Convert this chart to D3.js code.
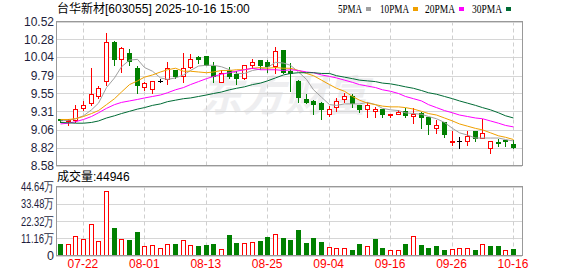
<!DOCTYPE html>
<html><head><meta charset="utf-8">
<script src="https://cdn.jsdelivr.net/npm/d3@7"></script>
<style>html,body{margin:0;padding:0;background:#fff;}svg{display:block;}</style>
</head><body>
<svg id="c" width="578" height="276"></svg>
<script>
const dates = ["07-17","07-18","07-21","07-22","07-23","07-24","07-25","07-28","07-29","07-30","07-31",
"08-01","08-04","08-05","08-06","08-07","08-08","08-11","08-12","08-13","08-14","08-15","08-18","08-19","08-20","08-21","08-22","08-25","08-26","08-27","08-28","08-29",
"09-01","09-02","09-03","09-04","09-05","09-08","09-09","09-10","09-11","09-12","09-15","09-16","09-17","09-18","09-19","09-22","09-23","09-24","09-25","09-26","09-29","09-30",
"10-09","10-10","10-13","10-14","10-15","10-16"];
const open  = [9.20,9.18,9.19,9.35,9.42,9.52,9.72,10.24,10.01,10.10,9.90,9.64,9.61,9.72,9.74,9.86,9.78,9.91,10.04,10.05,9.92,9.71,9.86,9.81,9.76,9.94,10.00,9.97,9.92,10.14,9.85,9.72,9.48,9.45,9.42,9.28,9.37,9.47,9.52,9.40,9.34,9.32,9.34,9.27,9.27,9.31,9.25,9.29,9.23,9.09,9.16,8.90,8.91,8.91,9.04,8.95,8.81,8.89,8.92,8.87];
const close = [9.19,9.19,9.34,9.40,9.54,9.62,10.24,10.01,10.16,9.99,9.67,9.69,9.72,9.72,9.89,9.78,9.89,10.02,10.01,9.93,9.78,9.83,9.79,9.76,9.93,9.97,9.93,9.92,10.12,9.84,9.83,9.50,9.43,9.41,9.34,9.34,9.45,9.52,9.42,9.34,9.40,9.34,9.27,9.275,9.30,9.26,9.28,9.23,9.14,9.13,9.00,8.91,8.91,8.98,8.95,9.02,8.91,8.88,8.91,8.83];
const high  = [9.21,9.20,9.40,9.45,9.89,9.65,10.36,10.26,10.17,10.15,9.92,9.70,9.72,9.74,9.98,9.87,10.09,10.08,10.06,10.05,9.97,9.86,9.91,9.85,9.94,10.02,10.00,10.00,10.18,10.14,9.96,9.73,9.54,9.46,9.43,9.38,9.49,9.55,9.54,9.40,9.43,9.37,9.34,9.28,9.33,9.35,9.36,9.30,9.23,9.19,9.17,9.04,8.97,9.04,9.04,9.20,8.91,8.94,8.92,8.92];
const low   = [9.17,9.12,9.17,9.33,9.40,9.49,9.67,9.93,9.84,9.93,9.56,9.60,9.55,9.70,9.68,9.76,9.70,9.89,9.96,9.93,9.70,9.70,9.76,9.68,9.75,9.89,9.88,9.84,9.83,9.83,9.58,9.43,9.42,9.28,9.20,9.25,9.31,9.43,9.37,9.30,9.23,9.23,9.23,9.23,9.27,9.23,9.15,9.09,9.01,9.02,8.97,8.86,8.81,8.86,8.91,8.95,8.75,8.84,8.84,8.81];
const volume = [7.2,7.6,12.8,10.9,20.6,9.6,41.5,17.6,10.9,9.8,15.0,6.3,7.0,5.0,7.6,7.2,10.2,7.0,5.9,6.5,7.2,4.3,13.0,7.8,7.8,8.5,9.1,11.7,13.7,11.1,9.8,16.3,7.8,11.1,8.5,5.6,5.0,5.0,3.7,7.2,6.3,10.4,5.0,3.3,3.3,7.2,12.8,6.5,5.0,5.9,3.7,4.3,5.0,5.0,3.7,7.6,5.9,5.9,3.7,4.49];
const volDir = ["d","u","u","u","u","u","u","d","u","d","d","u","u","u","u","d","u","u","d","d","d","u","d","d","u","u","d","d","u","d","d","d","d","d","d","u","u","u","d","d","u","d","d","u","u","d","u","d","d","d","d","u","u","u","d","u","d","d","u","d"];
const ma5  = [9.18,9.19,9.21,9.25,9.33,9.42,9.63,9.76,9.91,10.00,10.01,9.90,9.85,9.76,9.74,9.76,9.80,9.86,9.92,9.93,9.93,9.91,9.87,9.82,9.82,9.86,9.88,9.90,9.97,9.96,9.93,9.84,9.74,9.60,9.50,9.40,9.39,9.41,9.41,9.41,9.43,9.40,9.35,9.33,9.32,9.29,9.28,9.27,9.24,9.21,9.16,9.08,9.02,8.99,8.95,8.95,8.95,8.95,8.93,8.91];
const ma10 = [9.20,9.20,9.21,9.24,9.28,9.32,9.40,9.48,9.57,9.67,9.72,9.77,9.80,9.84,9.87,9.89,9.85,9.85,9.84,9.83,9.84,9.86,9.86,9.87,9.87,9.89,9.90,9.89,9.90,9.89,9.89,9.86,9.82,9.79,9.73,9.67,9.62,9.58,9.51,9.46,9.42,9.40,9.38,9.37,9.37,9.36,9.34,9.31,9.28,9.26,9.22,9.18,9.14,9.11,9.08,9.06,9.02,8.98,8.96,8.93];
const ma20 = [9.14,9.15,9.17,9.20,9.24,9.29,9.35,9.40,9.43,9.45,9.47,9.49,9.51,9.53,9.56,9.60,9.63,9.67,9.71,9.75,9.78,9.81,9.83,9.85,9.87,9.89,9.87,9.87,9.87,9.86,9.87,9.86,9.84,9.83,9.80,9.78,9.76,9.73,9.70,9.67,9.65,9.63,9.60,9.58,9.55,9.51,9.48,9.45,9.40,9.36,9.32,9.29,9.26,9.24,9.22,9.21,9.18,9.15,9.12,9.10];
const ma30 = [9.16,9.155,9.15,9.15,9.16,9.18,9.22,9.25,9.28,9.31,9.34,9.36,9.39,9.41,9.44,9.46,9.48,9.49,9.51,9.53,9.55,9.57,9.60,9.62,9.64,9.67,9.69,9.72,9.76,9.80,9.82,9.83,9.83,9.83,9.82,9.82,9.79,9.77,9.75,9.73,9.72,9.71,9.69,9.68,9.66,9.64,9.62,9.59,9.56,9.54,9.51,9.48,9.45,9.42,9.39,9.36,9.33,9.29,9.25,9.22];
const priceTicks = [10.52,10.28,10.04,9.79,9.55,9.31,9.06,8.82,8.58];
const volTicks = [0,11.16,22.32,33.48,44.64];
const dateTicks = ["07-22","08-01","08-13","08-25","09-04","09-16","09-26","10-16"];
const maNames = ["5PMA","10PMA","20PMA","30PMA"];
const maColors = ["#a0a0a0","#f0a000","#ff00ff","#006b35"];
const title = "台华新材[603055] 2025-10-16 15:00";
const volLabel = "成交量:44946";

const svg = d3.select("#c");
const L = 56, R = 522, PT = 21.5, PB = 165.5, VT = 186.5, VB = 255.5;
const x = d3.scaleBand().domain(dates).range([L, 516.8]).padding(0);
const cx = d => Math.round(x(d) + x.bandwidth() / 2);
const yP = d3.scaleLinear().domain([8.58, 10.52]).range([PB, PT]);
const yV = d3.scaleLinear().domain([0, 44.64]).range([VB, VT]);

// watermark
svg.append("text").attr("x", 200).attr("y", 111).text("东方财富")
  .attr("font-family", "Noto Sans CJK SC").attr("font-size", 42).attr("font-weight", "bold")
  .attr("font-style", "italic").attr("fill", "#eeeef0");

// horizontal grids
svg.append("g").selectAll("line").data(priceTicks).join("line")
  .attr("x1", L).attr("x2", R).attr("y1", d => Math.round(yP(d)) + 0.5).attr("y2", d => Math.round(yP(d)) + 0.5)
  .attr("stroke", "#d6d6d6");
svg.append("g").selectAll("line").data(volTicks).join("line")
  .attr("x1", L).attr("x2", R).attr("y1", d => Math.round(yV(d)) + 0.5).attr("y2", d => Math.round(yV(d)) + 0.5)
  .attr("stroke", "#d6d6d6");
// vertical dashed grids
const vg = svg.append("g");
dateTicks.forEach(d => {
  const xx = cx(d) + 0.5;
  vg.append("line").attr("x1", xx).attr("x2", xx).attr("y1", PT).attr("y2", PB)
    .attr("stroke", "#cfcfcf").attr("stroke-dasharray", "4,3");
  vg.append("line").attr("x1", xx).attr("x2", xx).attr("y1", VT).attr("y2", VB)
    .attr("stroke", "#cfcfcf").attr("stroke-dasharray", "4,3");
});

// candles
const idx = d3.range(dates.length);
const cg = svg.append("g");
idx.forEach(i => {
  const c = cx(dates[i]);
  const o = open[i], cl = close[i];
  const col = cl > o ? "#ff0000" : cl < o ? "#008000" : "#000000";
  cg.append("line").attr("x1", c + 0.5).attr("x2", c + 0.5)
    .attr("y1", Math.round(yP(high[i]))).attr("y2", Math.round(yP(low[i])) + 1).attr("stroke", col);
  const yt = Math.round(yP(Math.max(o, cl))), yb = Math.round(yP(Math.min(o, cl)));
  if (cl > o) {
    cg.append("rect").attr("x", c - 2 + 0.5).attr("y", yt + 0.5).attr("width", 4).attr("height", Math.max(1, yb - yt))
      .attr("fill", "#fff").attr("stroke", col);
  } else if (cl < o) {
    cg.append("rect").attr("x", c - 2).attr("y", yt).attr("width", 5).attr("height", Math.max(1, yb - yt + 1))
      .attr("fill", col);
  } else {
    cg.append("line").attr("x1", c - 2).attr("x2", c + 3).attr("y1", yt + 0.5).attr("y2", yt + 0.5).attr("stroke", col);
  }
});

// MA lines
[ma5, ma10, ma20, ma30].forEach((arr, k) => {
  svg.append("path").datum(arr)
    .attr("d", d3.line().x((d, i) => cx(dates[i]) + 0.5).y(d => yP(d)))
    .attr("fill", "none").attr("stroke", maColors[k]).attr("stroke-width", 1);
});

// volume bars
const vb = svg.append("g");
idx.forEach(i => {
  const c = cx(dates[i]);
  const top = Math.round(yV(volume[i]));
  if (volDir[i] === "u") {
    vb.append("rect").attr("x", c - 2 + 0.5).attr("y", top + 0.5).attr("width", 4).attr("height", 255 - top)
      .attr("fill", "#fff").attr("stroke", "#ff0000");
  } else {
    vb.append("rect").attr("x", c - 2).attr("y", top).attr("width", 5).attr("height", 256 - top)
      .attr("fill", "#008000");
  }
});

// borders
svg.append("rect").attr("x", L + 0.5).attr("y", PT).attr("width", R - L).attr("height", PB - PT)
  .attr("fill", "none").attr("stroke", "#999");
svg.append("rect").attr("x", L + 0.5).attr("y", VT).attr("width", R - L).attr("height", VB - VT)
  .attr("fill", "none").attr("stroke", "#999");

// axes
const fnt = "Liberation Sans, Arial, sans-serif";
const ay = svg.append("g").attr("transform", `translate(${L - 1},0)`)
  .call(d3.axisLeft(yP).tickValues(priceTicks).tickSize(0).tickPadding(1).tickFormat(d3.format(".2f")));
ay.select(".domain").remove();
ay.selectAll("text").attr("font-family", fnt).attr("font-size", 12).attr("fill", "#1e1e3c");
const av = svg.append("g").attr("transform", `translate(${L - 1},0)`)
  .call(d3.axisLeft(yV).tickValues(volTicks).tickSize(0).tickPadding(1)
    .tickFormat(v => v === 0 ? "0" : d3.format(".2f")(v) + "万"));
av.select(".domain").remove();
av.selectAll("text").attr("font-family", fnt).attr("font-size", 12.5).attr("fill", "#1e1e3c")
  .each(function (d) { if (d !== 0) d3.select(this).attr("textLength", 33).attr("lengthAdjust", "spacingAndGlyphs"); });
const ax = svg.append("g").attr("transform", `translate(0,${VB})`)
  .call(d3.axisBottom(x).tickValues(dateTicks).tickSize(0).tickPadding(4));
ax.select(".domain").remove();
ax.selectAll("text").attr("font-family", fnt).attr("font-size", 12).attr("fill", "#ff0000");

// header
svg.append("text").attr("x", 57).attr("y", 13).text(title)
  .attr("font-family", "Liberation Sans, Noto Sans CJK SC").attr("font-size", 12).attr("fill", "#000");
svg.append("text").attr("x", 57).attr("y", 181).text(volLabel)
  .attr("font-family", "Liberation Sans, Noto Sans CJK SC").attr("font-size", 12).attr("fill", "#000");

// legend
const legX = [338, 380, 425, 472];
const legW = [24, 29, 30, 30];
maNames.forEach((n, k) => {
  svg.append("text").attr("x", legX[k]).attr("y", 12.5).text(n)
    .attr("font-family", "Liberation Serif, serif").attr("font-size", 12.5).attr("fill", "#000")
    .attr("textLength", legW[k]).attr("lengthAdjust", "spacingAndGlyphs");
  svg.append("rect").attr("x", legX[k] + legW[k] + 4).attr("y", 7).attr("width", 5).attr("height", 4).attr("fill", maColors[k]);
});
</script>
</body></html>
